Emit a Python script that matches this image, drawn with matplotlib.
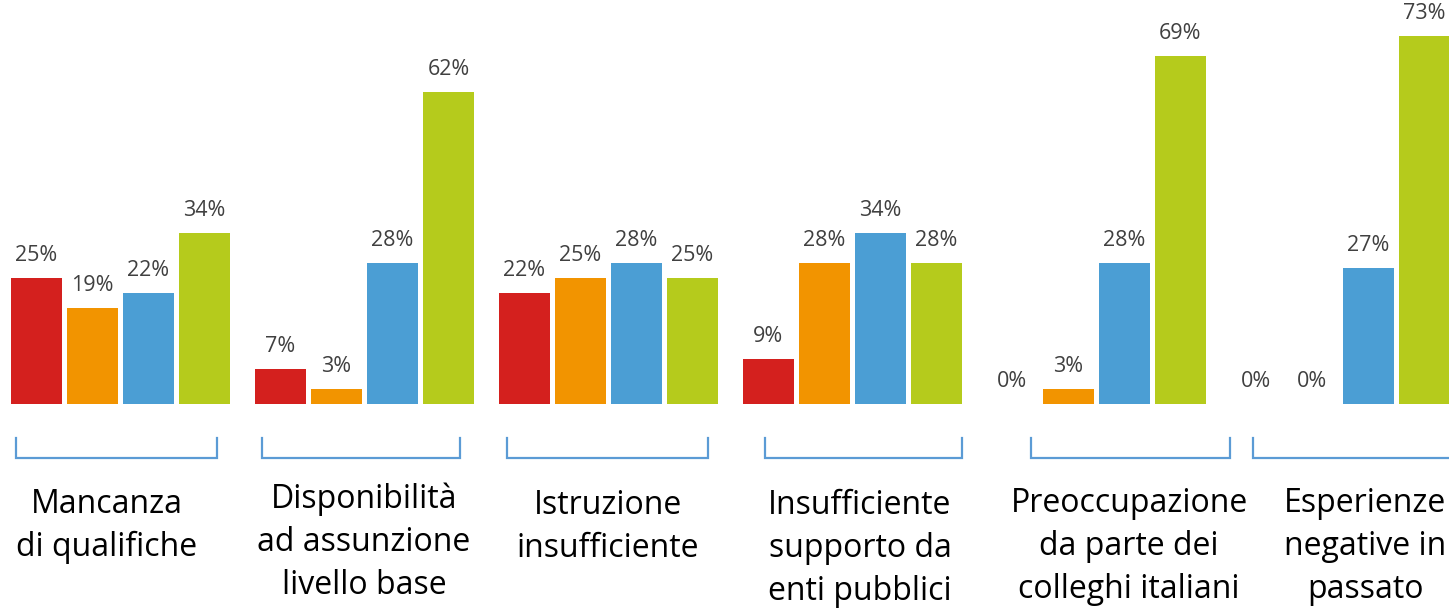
import numpy as np
import matplotlib
matplotlib.use("Agg")
import matplotlib.pyplot as plt

# data
categories = [
    "Mancanza\ndi qualifiche",
    "Disponibilità\nad assunzione\nlivello base",
    "Istruzione\ninsufficiente",
    "Insufficiente\nsupporto da\nenti pubblici",
    "Preoccupazione\nda parte dei\ncolleghi italiani",
    "Esperienze\nnegative in\npassato",
]
s_red = [25, 7, 22, 9, 0, 0]
s_orange = [19, 3, 25, 28, 3, 0]
s_blue = [22, 28, 28, 34, 28, 27]
s_green = [34, 62, 25, 28, 69, 73]
series = [s_red, s_orange, s_blue, s_green]
colors = ["#D4201E", "#F29400", "#4B9ED4", "#B5CB1C"]

W, H = 1449, 613
fig = plt.figure(figsize=(W / 100, H / 100), dpi=100)

# bar axes: one bar step = 56 px, group step = 244 px
gstep = 244 / 56
x0 = 36.5 / 56
ax = fig.add_axes([0, (H - 404) / H, 1, 80 * 5.04 / H])
ax.set_xlim(-x0, W / 56 - x0)
ax.set_ylim(0, 80)
ax.axis("off")

g = np.arange(len(categories))
for j, (vals, c) in enumerate(zip(series, colors)):
    xs = g * gstep + j
    ax.bar(xs, vals, width=51 / 56, color=c, linewidth=0)
    for x, v in zip(xs, vals):
        ax.annotate(f"{v}%", (x, v), xytext=(0, 12.2), textcoords="offset points",
                    ha="center", va="baseline", fontsize=15.5, color="#404040",
                    family="Open Sans")

# overlay in pixel coords for brackets and category labels
ov = fig.add_axes([0, 0, 1, 1])
ov.set_xlim(0, W)
ov.set_ylim(H, 0)
ov.axis("off")

brackets = [(16, 217), (262, 460), (507, 708), (765, 962), (1031, 1230), (1253, 1460)]
label_x = [107, 364, 608, 860, 1129, 1365]
first_base = [513, 508, 514, 514, 512, 512]
for (a, b), lx, fb, cat in zip(brackets, label_x, first_base, categories):
    ov.plot([a, a, b, b], [438, 458, 458, 438], color="#5B9BD5", lw=1.6,
            solid_joinstyle="miter", clip_on=False)
    for k, line in enumerate(cat.split("\n")):
        ov.text(lx, fb + 43 * k, line, ha="center", va="baseline",
                fontsize=23, color="black", family="Open Sans")

fig.savefig("out.png", dpi=100)
